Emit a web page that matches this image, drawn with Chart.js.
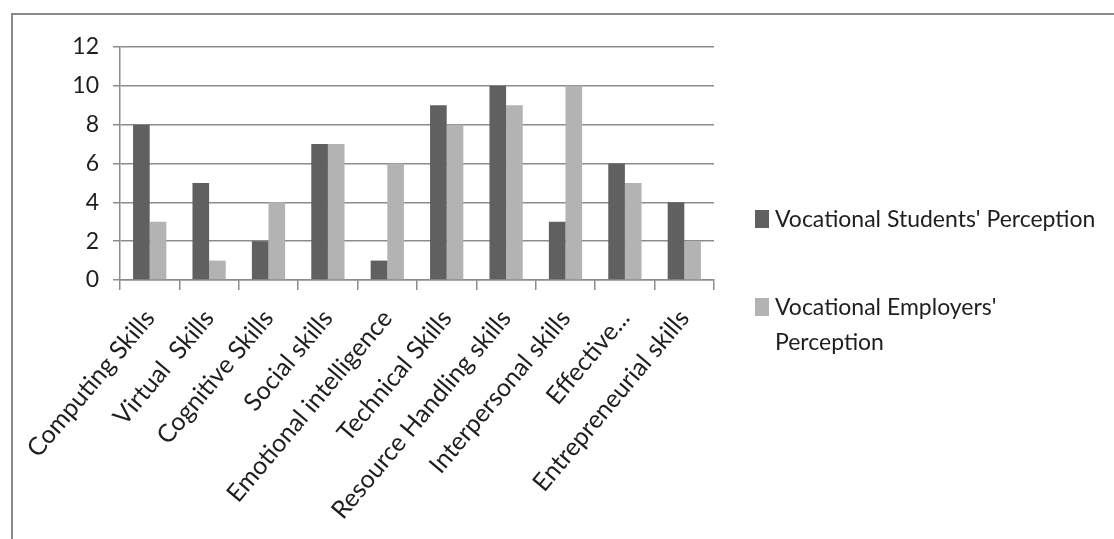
<!DOCTYPE html>
<html>
<head>
<meta charset="utf-8">
<script src="https://cdn.jsdelivr.net/npm/chart.js@4"></script>
<style>
html, body { margin: 0; padding: 0; background: #fff; }
#wrap { position: relative; width: 1114px; height: 539px; overflow: hidden; }
#frame { position: absolute; left: 11px; top: 13px; width: 1200px; height: 600px;
         border-top: 2px solid #8a8a8a; border-left: 2px solid #8a8a8a; }
#chart { position: absolute; left: 0; top: 0; }
#legend { position: absolute; left: 755px; top: 201px;
          font-family: Lato, sans-serif; font-size: 23px; color: #1e1e1e; }
.item { display: flex; align-items: flex-start; line-height: 35px; margin-bottom: 53px; }
.item span.txt { max-width: 326px; }
.box { flex: none; width: 14px; height: 18px; margin-top: 9px; margin-right: 6px; }
</style>
</head>
<body>
<div id="wrap">
  <div id="frame"></div>
  <canvas id="chart" width="1114" height="539"></canvas>
  <div id="legend"></div>
</div>
<script>
const categories = ['Computing Skills', 'Virtual  Skills', 'Cognitive Skills', 'Social skills',
  'Emotional intelligence', 'Technical Skills', 'Resource Handling skills',
  'Interpersonal skills', 'Effective...', 'Entrepreneurial skills'];
const studentsPerception = [8, 5, 2, 7, 1, 9, 10, 3, 6, 4];
const employersPerception = [3, 1, 4, 7, 6, 8, 9, 10, 5, 2];
const seriesNames = ["Vocational Students' Perception", "Vocational Employers' Perception"];
const seriesColors = ['#606060', '#b3b3b3'];
const yTicks = [0, 2, 4, 6, 8, 10, 12];

const gridColor = '#8c8c8c';
const textColor = '#1e1e1e';
const font = { family: 'Lato, sans-serif', size: 23 };
const xFont = { family: 'Lato, sans-serif', size: 25 };

const ctx = document.getElementById('chart').getContext('2d');
const chart = new Chart(ctx, {
  type: 'bar',
  data: {
    labels: categories,
    datasets: [
      { label: seriesNames[0], data: studentsPerception, backgroundColor: seriesColors[0],
        categoryPercentage: 0.56, barPercentage: 1.0 },
      { label: seriesNames[1], data: employersPerception, backgroundColor: seriesColors[1],
        categoryPercentage: 0.56, barPercentage: 1.0 }
    ]
  },
  options: {
    responsive: false, animation: false,
    layout: { padding: { left: 0, right: 400, top: 47, bottom: 0 } },
    plugins: { legend: { display: false }, tooltip: { enabled: false } },
    scales: {
      x: {
        grid: { drawOnChartArea: false, offset: true, tickLength: 10, color: gridColor, lineWidth: 1.5 },
        border: { color: gridColor, width: 1.5 },
        ticks: { minRotation: 50, maxRotation: 50, padding: 14, autoSkip: false, font: xFont, color: textColor },
        afterFit(s) { s.height = 259; }
      },
      y: {
        min: 0, max: 12,
        afterBuildTicks(s) { s.ticks = yTicks.map(v => ({ value: v })); },
        grid: { color: gridColor, lineWidth: 1.5, tickLength: 7 },
        border: { color: gridColor, width: 1.5 },
        ticks: { padding: 14, font: font, color: textColor },
        afterFit(s) { s.width = 120; }
      }
    }
  }
});

const legend = document.getElementById('legend');
chart.data.datasets.forEach(ds => {
  const item = document.createElement('div');
  item.className = 'item';
  const box = document.createElement('span');
  box.className = 'box';
  box.style.background = ds.backgroundColor;
  const txt = document.createElement('span');
  txt.className = 'txt';
  txt.textContent = ds.label;
  item.appendChild(box);
  item.appendChild(txt);
  legend.appendChild(item);
});
</script>
</body>
</html>
